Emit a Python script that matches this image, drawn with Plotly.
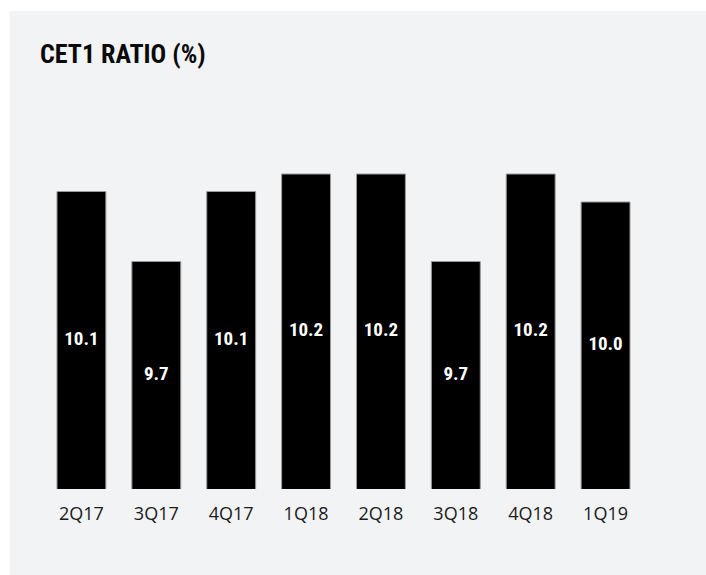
import plotly.graph_objects as go

categories = ["2Q17", "3Q17", "4Q17", "1Q18", "2Q18", "3Q18", "4Q18", "1Q19"]
values = [10.10, 9.70, 10.10, 10.20, 10.20, 9.70, 10.20, 10.04]
title_text = "CET1 RATIO (%)"
y_floor = 8.4

W, H = 706, 575
ml, mr, mt, mb = 43.5, 62.5, 104, 86
pw, ph = W - ml - mr, H - mt - mb

def px_to_paper_x(x):
    return (x - ml) / pw

def px_to_paper_y(y):
    return (H - mb - y) / ph

fig = go.Figure()
fig.add_trace(go.Bar(
    x=categories,
    y=values,
    marker=dict(color="#000000", line=dict(color="#9a9a9a", width=1)),
    textposition="none",
    hoverinfo="skip",
))
fig.add_trace(go.Scatter(
    x=categories,
    y=[(v + y_floor) / 2 for v in values],
    mode="text",
    text=[f"{v:.1f}" for v in values],
    textposition="middle center",
    textfont=dict(family="Roboto Condensed", size=19, color="#ffffff", weight="bold"),
    hoverinfo="skip",
))

fig.add_shape(type="rect", xref="paper", yref="paper",
              x0=px_to_paper_x(9), x1=px_to_paper_x(707),
              y0=px_to_paper_y(576), y1=px_to_paper_y(11),
              fillcolor="#f2f3f5", line=dict(width=0), layer="below")

fig.add_annotation(text=title_text, xref="paper", yref="paper",
                   x=px_to_paper_x(37), y=px_to_paper_y(37),
                   xanchor="left", yanchor="top", showarrow=False,
                   font=dict(family="Roboto Condensed", size=26, color="#0a0a0a", weight="bold"))

fig.update_layout(
    width=W, height=H,
    margin=dict(l=ml, r=mr, t=mt, b=mb, pad=0),
    paper_bgcolor="#ffffff",
    plot_bgcolor="rgba(0,0,0,0)",
    bargap=0.347,
    showlegend=False,
    xaxis=dict(showgrid=False, zeroline=False, showline=False, ticks="",
               tickfont=dict(family="Open Sans, Noto Sans, sans-serif", size=18, color="#1a1a1a"),
               ticklabelstandoff=12),
    yaxis=dict(range=[y_floor, 10.6], visible=False, showgrid=False, zeroline=False),
)

fig.write_html("out.html")
